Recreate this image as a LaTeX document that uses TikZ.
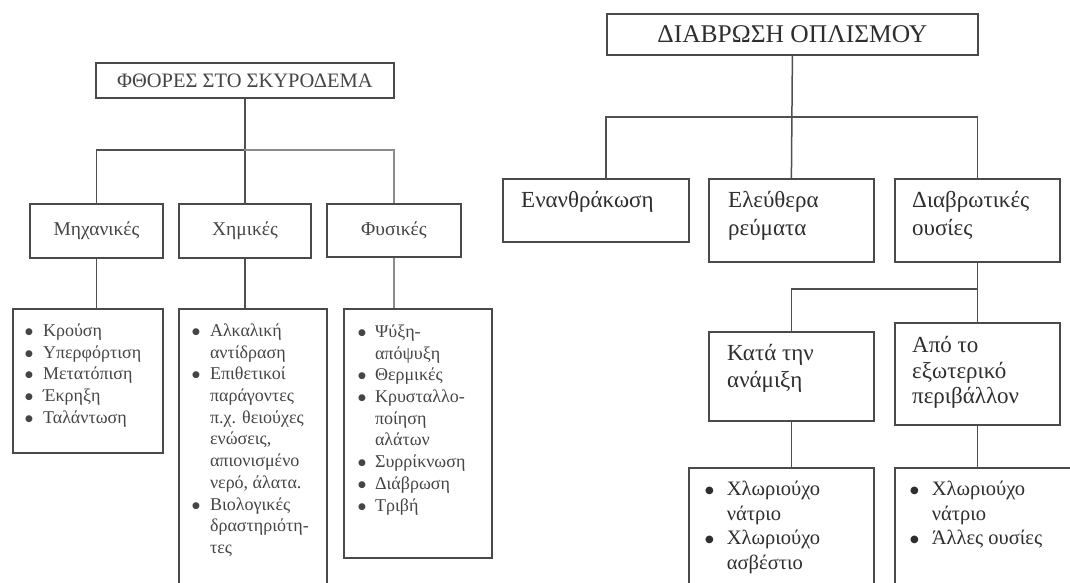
\documentclass[tikz,border=0pt]{standalone}
\usepackage{fontspec}
\setmainfont{Liberation Serif}
\newfontfamily\symf{DejaVu Sans}
\definecolor{boxc}{HTML}{4A4A4A}
\definecolor{linec}{HTML}{505050}
\definecolor{linelt}{HTML}{8C8C8C}
\definecolor{txtl}{HTML}{454545}
\definecolor{txtr}{HTML}{2E2E2E}
\newcommand{\bul}{\raisebox{2pt}{\fontsize{9}{9}\selectfont\symf ●}}
\newcommand{\bulr}{\raisebox{2.5pt}{\fontsize{10}{10}\selectfont\symf ●}}
\newcommand{\blitem}[1]{\bul & #1\\}
\newcommand{\brItem}[1]{\bulr & #1\\}
\newcommand{\blcont}[1]{& #1\\}
\tikzset{
  box/.style={draw=boxc, line width=1.8pt, inner sep=0pt, anchor=north west, rectangle},
  conn/.style={draw=linec, line width=1.5pt},
  connlt/.style={draw=linelt, line width=1.5pt},
  lfont/.style={font=\fontsize{19.5}{22}\selectfont, text=txtl},
  rbox/.style={font=\fontsize{23}{26}\selectfont, text=txtr, anchor=north west, align=left, inner sep=0pt},
  llist/.style={font=\fontsize{18}{21.7}\selectfont, text=txtl, anchor=north west, inner sep=0pt},
  rlist/.style={font=\fontsize{20.5}{24.4}\selectfont, text=txtr, anchor=north west, inner sep=0pt},
}
\begin{document}
\begin{tikzpicture}[x=1pt,y=-1pt]
\clip (0,0) rectangle (1070,582);
\fill[white] (0,0) rectangle (1070,582);
% ---------------- left diagram ----------------
\node[box, lfont, font=\fontsize{20.5}{22}\selectfont, minimum width=298pt, minimum height=35pt] (t1) at (95,62) {ΦΘΟΡΕΣ ΣΤΟ ΣΚΥΡΟΔΕΜΑ};
\node[box, lfont, minimum width=133pt, minimum height=54pt] (m) at (29,203) {Μηχανικές};
\node[box, lfont, minimum width=132pt, minimum height=54pt] (c) at (178,203) {Χημικές};
\node[box, lfont, minimum width=134pt, minimum height=53pt] (p) at (326,203) {Φυσικές};
\node[box, minimum width=150pt, minimum height=144pt] (ml) at (12,308) {};
\node[box, minimum width=148pt, minimum height=320pt] (cl) at (178,308) {};
\node[box, minimum width=148pt, minimum height=249pt] (pl) at (343,308) {};
\coordinate (h1) at (244,150);
\draw[conn] (t1.south) -- (c.north);
\draw[conn] (m.north) -- (m.north |- h1) -- (h1);
\draw[connlt] (h1) -- (p.north |- h1) -- (p.north);
\draw[conn] (m.south) -- (m.south |- ml.north);
\draw[conn] (c.south) -- (c.south |- cl.north);
\draw[connlt] (p.south) -- (p.south |- pl.north);
\node[llist] (mlt) at (25,321) {\begin{tabular}{@{}l@{\hspace{10pt}}l@{}}
\blitem{Κρούση}
\blitem{Υπερφόρτιση}
\blitem{Μετατόπιση}
\blitem{Έκρηξη}
\blitem{Ταλάντωση}
\end{tabular}};
\node[llist] (clt) at (192,321) {\begin{tabular}{@{}l@{\hspace{10pt}}l@{}}
\blitem{Αλκαλική}
\blcont{αντίδραση}
\blitem{Επιθετικοί}
\blcont{παράγοντες}
\blcont{π.χ. θειούχες}
\blcont{ενώσεις,}
\blcont{απιονισμένο}
\blcont{νερό, άλατα.}
\blitem{Βιολογικές}
\blcont{δραστηριότη-}
\blcont{τες}
\end{tabular}};
\node[llist] (plt) at (358,322) {\begin{tabular}{@{}l@{\hspace{9pt}}l@{}}
\blitem{Ψύξη-}
\blcont{απόψυξη}
\blitem{Θερμικές}
\blitem{Κρυσταλλο-}
\blcont{ποίηση}
\blcont{αλάτων}
\blitem{Συρρίκνωση}
\blitem{Διάβρωση}
\blitem{Τριβή}
\end{tabular}};
% ---------------- right diagram ----------------
\node[box, font=\fontsize{25.5}{28}\selectfont, text=txtr, minimum width=371pt, minimum height=41pt] (t2) at (606,13) {ΔΙΑΒΡΩΣΗ ΟΠΛΙΣΜΟΥ};
\node[box, minimum width=186pt, minimum height=63pt] (e) at (502,178) {};
\node[box, minimum width=165pt, minimum height=83pt] (l) at (708,178) {};
\node[box, minimum width=165pt, minimum height=83pt] (d) at (894,178) {};
\node[box, minimum width=165pt, minimum height=89pt] (k) at (708,331) {};
\node[box, minimum width=165pt, minimum height=102pt] (a) at (894,322) {};
\node[box, minimum width=185pt, minimum height=160pt] (kl) at (688,467) {};
\node[box, minimum width=220pt, minimum height=160pt] (al) at (894,467) {};
\coordinate (h2) at (606,117);
\coordinate (h3) at (790,289);
\draw[conn] (t2.south) -- (l.north);
\draw[conn] (e.north -| h2) -- (h2) -- (d.north |- h2) -- (d.north);
\draw[conn] (d.south) -- (a.north);
\draw[conn] (k.north) -- (k.north |- h3) -- (d.south |- h3);
\draw[conn] (k.south) -- (k.south |- kl.north);
\draw[conn] (a.south) -- (a.south |- al.north);
\node[rbox] (et) at (521,189.1) {\strut Ενανθράκωση};
\node[rbox, font=\fontsize{23}{28}\selectfont] (lt) at (728,187.7) {\strut Ελεύθερα\\ρεύματα};
\node[rbox, font=\fontsize{23}{28}\selectfont] (dt) at (912,187.7) {\strut Διαβρωτικές\\ουσίες};
\node[rbox, font=\fontsize{23}{26.5}\selectfont] (kt) at (727,341.8) {\strut Κατά την\\ανάμιξη};
\node[rbox, font=\fontsize{23}{25.5}\selectfont] (at) at (912,334.5) {\strut Από το\\εξωτερικό\\περιβάλλον};
\node[rlist] (klt) at (705,478.6) {\begin{tabular}{@{}l@{\hspace{13pt}}l@{}}
\brItem{Χλωριούχο}
\blcont{νάτριο}
\brItem{Χλωριούχο}
\blcont{ασβέστιο}
\end{tabular}};
\node[rlist] (alt) at (910,478.6) {\begin{tabular}{@{}l@{\hspace{13pt}}l@{}}
\brItem{Χλωριούχο}
\blcont{νάτριο}
\brItem{Άλλες ουσίες}
\end{tabular}};
\end{tikzpicture}
\end{document}
